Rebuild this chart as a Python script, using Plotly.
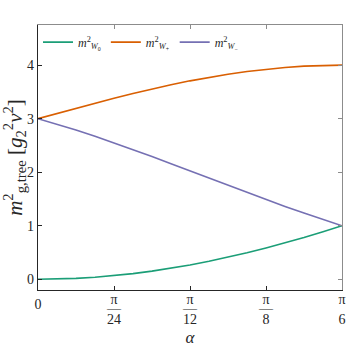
import math
import plotly.graph_objects as go

# alpha (radians), sampled every pi/96 from 0 to pi/6
alpha = [0.0, 0.0327, 0.0654, 0.0982, 0.1309, 0.1636, 0.1963, 0.2291, 0.2618,
         0.2945, 0.3272, 0.3600, 0.3927, 0.4254, 0.4581, 0.4909, 0.5236]
m2_W0 = [0.000, 0.004, 0.017, 0.038, 0.068, 0.106, 0.152, 0.206, 0.268,
         0.337, 0.413, 0.496, 0.586, 0.681, 0.782, 0.889, 1.000]
m2_Wplus = [3.000, 3.098, 3.195, 3.290, 3.383, 3.471, 3.556, 3.634, 3.707,
            3.773, 3.831, 3.882, 3.924, 3.957, 3.981, 3.995, 4.000]
m2_Wminus = [3.000, 2.898, 2.788, 2.672, 2.549, 2.423, 2.292, 2.160, 2.025,
             1.890, 1.756, 1.622, 1.490, 1.362, 1.237, 1.116, 1.000]

series_names = ["<i>m</i><sup>2</sup><sub><i>W</i><sub>0</sub></sub>",
                "<i>m</i><sup>2</sup><sub><i>W</i><sub>+</sub></sub>",
                "<i>m</i><sup>2</sup><sub><i>W</i><sub>−</sub></sub>"]
series_colors = ["#1b9e77", "#d95f02", "#7570b3"]

xtick_vals = [0, math.pi / 24, math.pi / 12, math.pi / 8, math.pi / 6]
xtick_zero = ["0", "", "", "", ""]
xtick_num = ["", "π", "π", "π", "π"]
xtick_bar = ["", "―", "―", "―", "―"]
xtick_den = ["", "24", "12", "8", "6"]
ytick_vals = [0, 1, 2, 3, 4]
ytick_text = ["0", "1", "2", "3", "4"]

FONT = "Liberation Serif"
DARK = "#262626"
GRAY = "#8c8c8c"

xr = [0, math.pi / 6]
yr = [-0.2, 4.75]

fig = go.Figure()
for name, ys, col in zip(series_names, [m2_W0, m2_Wplus, m2_Wminus], series_colors):
    fig.add_trace(go.Scatter(x=alpha, y=ys, mode="lines", name=name,
                             line=dict(color=col, width=1.6)))

# empty helper traces so that the auxiliary axes get drawn
for xa, ya in [("x2", "y"), ("x", "y2"), ("x3", "y"), ("x4", "y"), ("x5", "y")]:
    fig.add_trace(go.Scatter(x=[None], y=[None], xaxis=xa, yaxis=ya, mode="lines",
                             showlegend=False, hoverinfo="skip"))

def aux_x(ticktext, standoff, size=14):
    return dict(overlaying="x", side="bottom", anchor="y", range=xr, tickmode="array",
                tickvals=xtick_vals, ticktext=ticktext, ticks="", showline=False,
                showgrid=False, zeroline=False, ticklabelstandoff=standoff,
                automargin=False,
                tickfont=dict(size=size, family=FONT, color=DARK))

fig.update_layout(
    width=349, height=349, autosize=False,
    margin=dict(l=38, r=7, t=25, b=59, autoexpand=False),
    paper_bgcolor="white", plot_bgcolor="white",
    font=dict(family=FONT, color=DARK),
    showlegend=True,
    legend=dict(orientation="h", x=0.0, y=0.99, xanchor="left", yanchor="top",
                font=dict(size=12, family=FONT, color=DARK),
                bgcolor="rgba(0,0,0,0)", itemwidth=30, tracegroupgap=0),
    xaxis=dict(range=xr, tickmode="array", tickvals=xtick_vals, ticktext=xtick_num,
               ticks="inside", ticklen=4, tickcolor=DARK, showgrid=False, zeroline=False,
               showline=True, linecolor=DARK, linewidth=1.2, mirror=False,
               ticklabelstandoff=-4, automargin=False,
               tickfont=dict(size=14, family=FONT, color=DARK),
               title=dict(text="<i>α</i>", font=dict(size=17, family=FONT, color=DARK),
                          standoff=25)),
    xaxis3=aux_x(xtick_zero, 4),
    xaxis4=aux_x(xtick_bar, 8),
    xaxis5=aux_x(xtick_den, 19),
    yaxis=dict(range=yr, tickmode="array", tickvals=ytick_vals, ticktext=ytick_text,
               ticks="inside", ticklen=4, tickcolor=DARK, showgrid=False, zeroline=False,
               showline=True, linecolor=DARK, linewidth=1.2, mirror=False, automargin=False,
               tickfont=dict(size=14, family=FONT, color=DARK),
               title=dict(text="<i>m</i><sup>2</sup><sub>g,tree</sub> [<i>g</i><sub>2</sub><sup>2</sup><i>v</i><sup>2</sup>]",
                          font=dict(size=21, family=FONT, color=DARK), standoff=4)),
    xaxis2=dict(overlaying="x", side="top", anchor="y", range=xr, tickmode="array",
                tickvals=xtick_vals, showticklabels=False, ticks="inside", ticklen=4,
                tickcolor=GRAY, showgrid=False, zeroline=False, showline=True,
                linecolor=GRAY, linewidth=1.2, automargin=False),
    yaxis2=dict(overlaying="y", side="right", anchor="x", range=yr, tickmode="array",
                tickvals=ytick_vals, showticklabels=False, ticks="inside", ticklen=4,
                tickcolor=GRAY, showgrid=False, zeroline=False, showline=True,
                linecolor=GRAY, linewidth=1.2, automargin=False),
)

fig.write_html("out.html", config={"displayModeBar": False, "responsive": False},
               post_script="document.body.style.margin='0';")
